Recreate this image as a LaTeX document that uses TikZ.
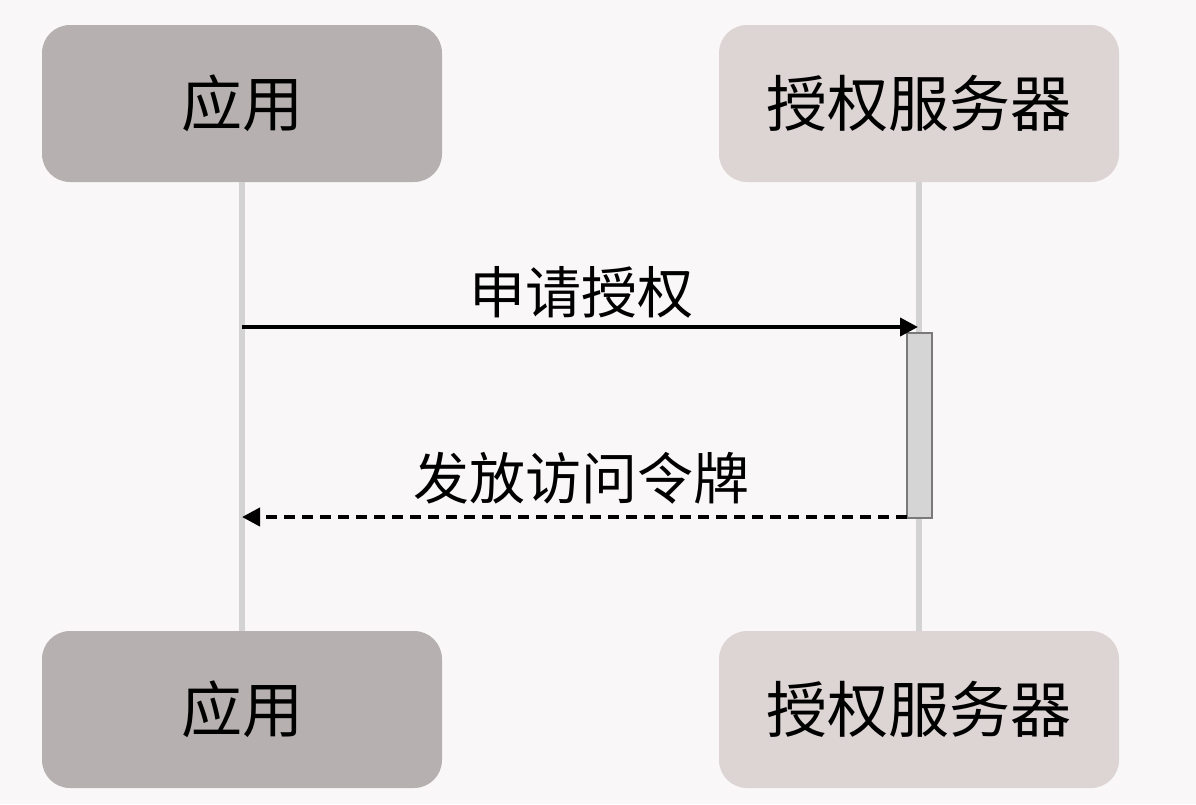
\documentclass[tikz,border=0pt]{standalone}
\usepackage{fontspec}
\setmainfont{Noto Sans CJK SC}
\usetikzlibrary{arrows.meta}
\definecolor{bg}{HTML}{F9F7F8}
\definecolor{appfill}{HTML}{B6B0B0}
\definecolor{srvfill}{HTML}{DDD4D4}
\definecolor{lifeline}{HTML}{D3D3D3}
\definecolor{actfill}{HTML}{D5D5D5}
\definecolor{actdraw}{HTML}{7A7A7A}
\tikzset{
  actor/.style={rounded corners=28pt, minimum width=400pt, minimum height=157pt, inner sep=0pt, font=\fontsize{61pt}{64pt}\selectfont},
  app/.style={actor, fill=appfill},
  srv/.style={actor, fill=srvfill},
  life/.style={draw=lifeline, line width=6pt},
  msg/.style={line width=4pt, -{Triangle[length=18pt,width=18pt]}},
  lbl/.style={font=\fontsize{56pt}{60pt}\selectfont, inner sep=0pt}
}
\begin{document}
\begin{tikzpicture}[x=1pt,y=-1pt]
\fill[bg] (0,0) rectangle (1196,804);
\useasboundingbox (0,0) rectangle (1196,804);
\node[app] (a1) at (242,103.5) {应用};
\node[srv] (s1) at (919,103.5) {授权服务器};
\node[app] (a2) at (242,709.5) {应用};
\node[srv] (s2) at (919,709.5) {授权服务器};
\draw[life] (a1.south) -- (a2.north);
\draw[life] (s1.south) -- (s2.north);
\node[draw=actdraw, fill=actfill, line width=1.5pt, minimum width=25pt, minimum height=185pt, inner sep=0pt, anchor=north] (act) at (919.5,332) {};
\coordinate (p1) at (242,327);
\coordinate (p2) at (918,327);
\draw[msg] (p1) -- (p2);
\node[lbl] (l1) at (581,292) {申请授权};
\coordinate (q1) at (907,517);
\coordinate (q2) at (242,517);
\draw[msg, dash pattern=on 11pt off 7pt] (q1) -- (q2);
\node[lbl] (l2) at (581,478) {发放访问令牌};
\end{tikzpicture}
\end{document}
